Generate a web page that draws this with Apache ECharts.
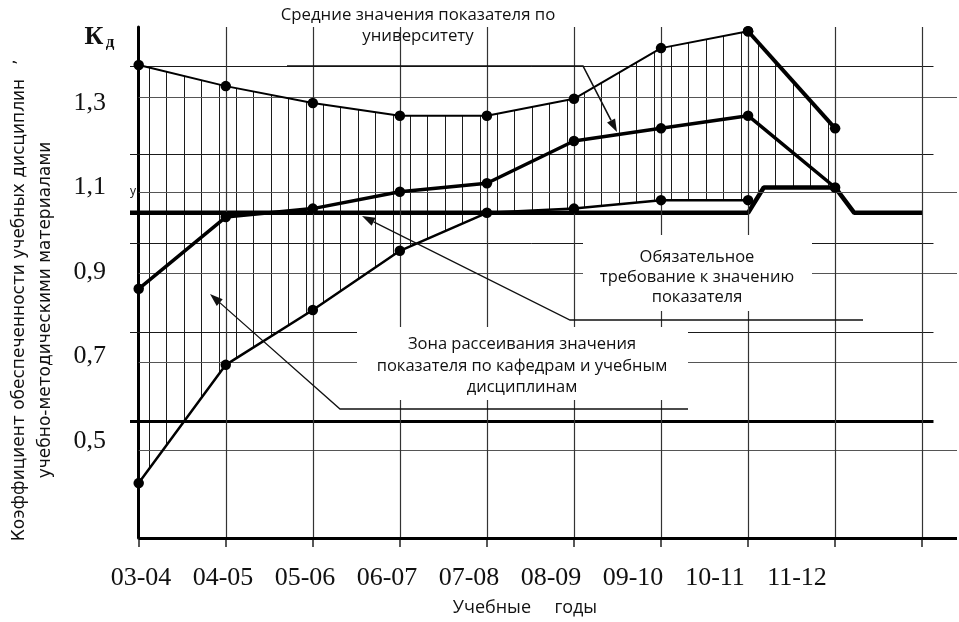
<!DOCTYPE html>
<html><head><meta charset="utf-8">
<script src="https://cdn.jsdelivr.net/npm/echarts@6/dist/echarts.min.js"></script>
<style>html,body{margin:0;padding:0;background:#fff}#c{width:959px;height:622px}</style>
</head><body><div id="c"></div>
<script>
// ---------- data ----------
const years = ['03-04','04-05','05-06','06-07','07-08','08-09','09-10','10-11','11-12'];
const maxVals  = [1.39, 1.34, 1.30, 1.27, 1.27, 1.31, 1.43, 1.47, 1.24];   // upper bound of the zone
const meanVals = [0.86, 1.03, 1.05, 1.09, 1.11, 1.21, 1.24, 1.27, 1.10];   // university average
const minVals  = [0.40, 0.68, 0.81, 0.95, 1.04, 1.05, 1.07, 1.07];         // lower bound of the zone
const reqX = [-0.1, 7, 7.18, 8, 8.22, 9];                                  // requirement step (year index)
const reqY = [1.04, 1.04, 1.10, 1.10, 1.04, 1.04];
const yTicks = [1.3, 1.1, 0.9, 0.7, 0.5];
const gridLong  = [1.388, 1.179, 0.969, 0.758];
const gridThick = [0.547];
const gridShort = [1.314, 1.089, 0.898, 0.687, 0.478];
const xMajor = [0,1,2,3,4,5,6,7,8,9];

// ---------- layout constants ----------
const X_MIN = -0.1, X_MAX = 9.4, Y_MIN = 0.27, Y_MAX = 1.48, LONG_END = 9.13;
const SERIF = '"Liberation Serif", "Times New Roman", serif';
const SANS = '"Open Sans", "Noto Sans", sans-serif';

function hatchPattern() {
  const W = 348, c = document.createElement('canvas');
  c.width = W; c.height = 8;
  const g = c.getContext('2d');
  g.fillStyle = '#1c1c1c';
  for (let k = 0; k < 20; k++) {
    const x = Math.round((149 + 17.4 * k) % W) % W;
    g.fillRect(x, 0, 1, 8);
  }
  return { image: c, repeat: 'repeat' };
}
const hatch = hatchPattern();

// zone polygon: upper curve, then requirement step top, then lower curve reversed
const zonePoly = maxVals.map((v, i) => [i, v])
  .concat([[reqX[3], reqY[3]], [reqX[2], reqY[2]]])
  .concat(minVals.map((v, i) => [i, v]).reverse());

// grid lines as mark lines
const ml = [];
function hl(x0, x1, v, w, color) {
  ml.push([{ coord: [x0, v], lineStyle: { width: w, color: color, type: 'solid' } }, { coord: [x1, v] }]);
}
gridLong.forEach(v => hl(X_MIN, LONG_END, v, 1, '#1a1a1a'));
gridThick.forEach(v => hl(X_MIN, LONG_END, v, 3, '#000'));
gridShort.forEach(v => hl(0, X_MAX, v, 1.2, '#555'));
xMajor.slice(1).forEach(u => ml.push([{ coord: [u, Y_MAX], lineStyle: { width: 1.2, color: '#333', type: 'solid' } }, { coord: [u, Y_MIN] }]));
hl(0, X_MAX, Y_MIN, 3, '#000');

// annotations
function arrow(pts, lw) {
  const T = pts[pts.length - 1], P = pts[pts.length - 2];
  const dx = T[0] - P[0], dy = T[1] - P[1], L = Math.hypot(dx, dy);
  const ux = dx / L, uy = dy / L, nx = -uy, ny = ux;
  const bx = T[0] - ux * 13, by = T[1] - uy * 13;
  const line = pts.slice(0, -1).concat([[bx, by]]);
  return [
    { type: 'polyline', shape: { points: line }, style: { stroke: '#111', lineWidth: lw, fill: null }, z: 30 },
    { type: 'polygon', shape: { points: [T, [bx + nx * 4.5, by + ny * 4.5], [bx - nx * 4.5, by - ny * 4.5]] }, style: { fill: '#111' }, z: 30 }
  ];
}
function txt(x, y, text, font, extra) {
  return {
    type: 'text', x: x, y: y, z: 31,
    style: Object.assign({ text: text, font: font, fill: '#111', align: 'center', textAlign: 'center',
      verticalAlign: 'middle', textVerticalAlign: 'middle' }, extra || {})
  };
}

const graphic = [
  { type: 'rect', shape: { x: 583, y: 235, width: 229, height: 76 }, style: { fill: '#fff' }, z: 25 },
  { type: 'rect', shape: { x: 357, y: 327, width: 331, height: 73 }, style: { fill: '#fff' }, z: 25 },
  txt(418, 26, 'Средние значения показателя по\nуниверситету', '16.8px ' + SANS, { lineHeight: 21 }),
  txt(697, 277, 'Обязательное\nтребование к значению\nпоказателя', '16.5px ' + SANS, { lineHeight: 20 }),
  txt(522, 366, 'Зона рассеивания значения\nпоказателя по кафедрам и учебным\nдисциплинам', '16.5px ' + SANS, { lineHeight: 21.5 }),
  txt(525, 608, 'Учебные     годы', '18px ' + SANS),
  txt(133, 192, 'у', '12px ' + SANS),
  txt(94, 37, 'К', 'bold 26px ' + SERIF),
  txt(110, 43, 'д', 'bold 17px ' + SERIF),
  Object.assign(txt(33, 310, 'Коэффициент обеспеченности учебных дисциплин\nучебно-методическими материалами', '17px "DejaVu Sans", sans-serif', { lineHeight: 26 }), { rotation: Math.PI / 2 }),
  Object.assign(txt(11, 62, ',', '17px "DejaVu Sans", sans-serif'), { rotation: Math.PI / 2 })
].concat(
  arrow([[287, 66], [583, 66], [617, 132]], 1.6),
  arrow([[863, 320], [570, 320], [362, 216]], 1.3),
  arrow([[688, 409], [340, 409], [210, 294]], 1.3)
);

const curve = (vals, w, z) => ({
  type: 'line', data: vals, z: z, symbol: 'circle', symbolSize: 10.5, showAllSymbol: true,
  itemStyle: { color: '#000' }, lineStyle: { color: '#000', width: w }, silent: true
});

const chart = echarts.init(document.getElementById('c'), null, { renderer: 'canvas' });
chart.setOption({
  animation: false,
  backgroundColor: '#fff',
  grid: [
    { left: 130, right: 2, top: 27, bottom: 84 },
    { left: 141, right: 162, top: 27, bottom: 84 }
  ],
  xAxis: [
    { type: 'value', gridIndex: 0, min: X_MIN, max: X_MAX,
      axisLine: { show: false }, splitLine: { show: false }, axisLabel: { show: false },
      axisTick: { show: true, customValues: xMajor, length: 9, lineStyle: { color: '#222', width: 1.5 } } },
    { type: 'category', gridIndex: 1, data: years, boundaryGap: false,
      axisLine: { show: false }, axisTick: { show: false }, splitLine: { show: false },
      axisLabel: { interval: 0, fontFamily: 'Liberation Serif', fontSize: 26, color: '#111', margin: 27 } }
  ],
  yAxis: [
    { type: 'value', gridIndex: 0, min: Y_MIN, max: Y_MAX,
      axisLine: { show: true, onZero: true, lineStyle: { color: '#000', width: 3 } },
      axisTick: { show: false }, splitLine: { show: false },
      axisLabel: { customValues: yTicks, formatter: v => String(v).replace('.', ','),
        fontFamily: 'Liberation Serif', fontSize: 26, color: '#111', margin: 24 } },
    { type: 'value', gridIndex: 1, show: false }
  ],
  series: [
    { type: 'line', data: [], z: 1, silent: true,
      markLine: { silent: true, symbol: ['none', 'none'], label: { show: false }, animation: false,
        emphasis: { disabled: true }, data: ml } },
    { type: 'custom', coordinateSystem: 'cartesian2d', xAxisIndex: 0, yAxisIndex: 0, z: 2, silent: true,
      data: [[0, maxVals[0]]],
      renderItem: (params, api) => ({
        type: 'polygon', shape: { points: zonePoly.map(p => api.coord(p)) },
        style: { fill: hatch, stroke: null }
      }) },
    curve(minVals.map((v, i) => [i, v]), 2.5, 5),
    curve(maxVals.slice(0, 8).map((v, i) => [i, v]), 2, 5),
    curve(maxVals.slice(7).map((v, i) => [i + 7, v]), 4, 5),
    curve(meanVals.map((v, i) => [i, v]), 3.5, 6),
    { type: 'line', data: reqX.map((x, i) => [x, reqY[i]]), z: 4, symbol: 'none', silent: true,
      lineStyle: { color: '#000', width: 4.5 } }
  ],
  graphic: graphic
});
</script>
</body></html>
